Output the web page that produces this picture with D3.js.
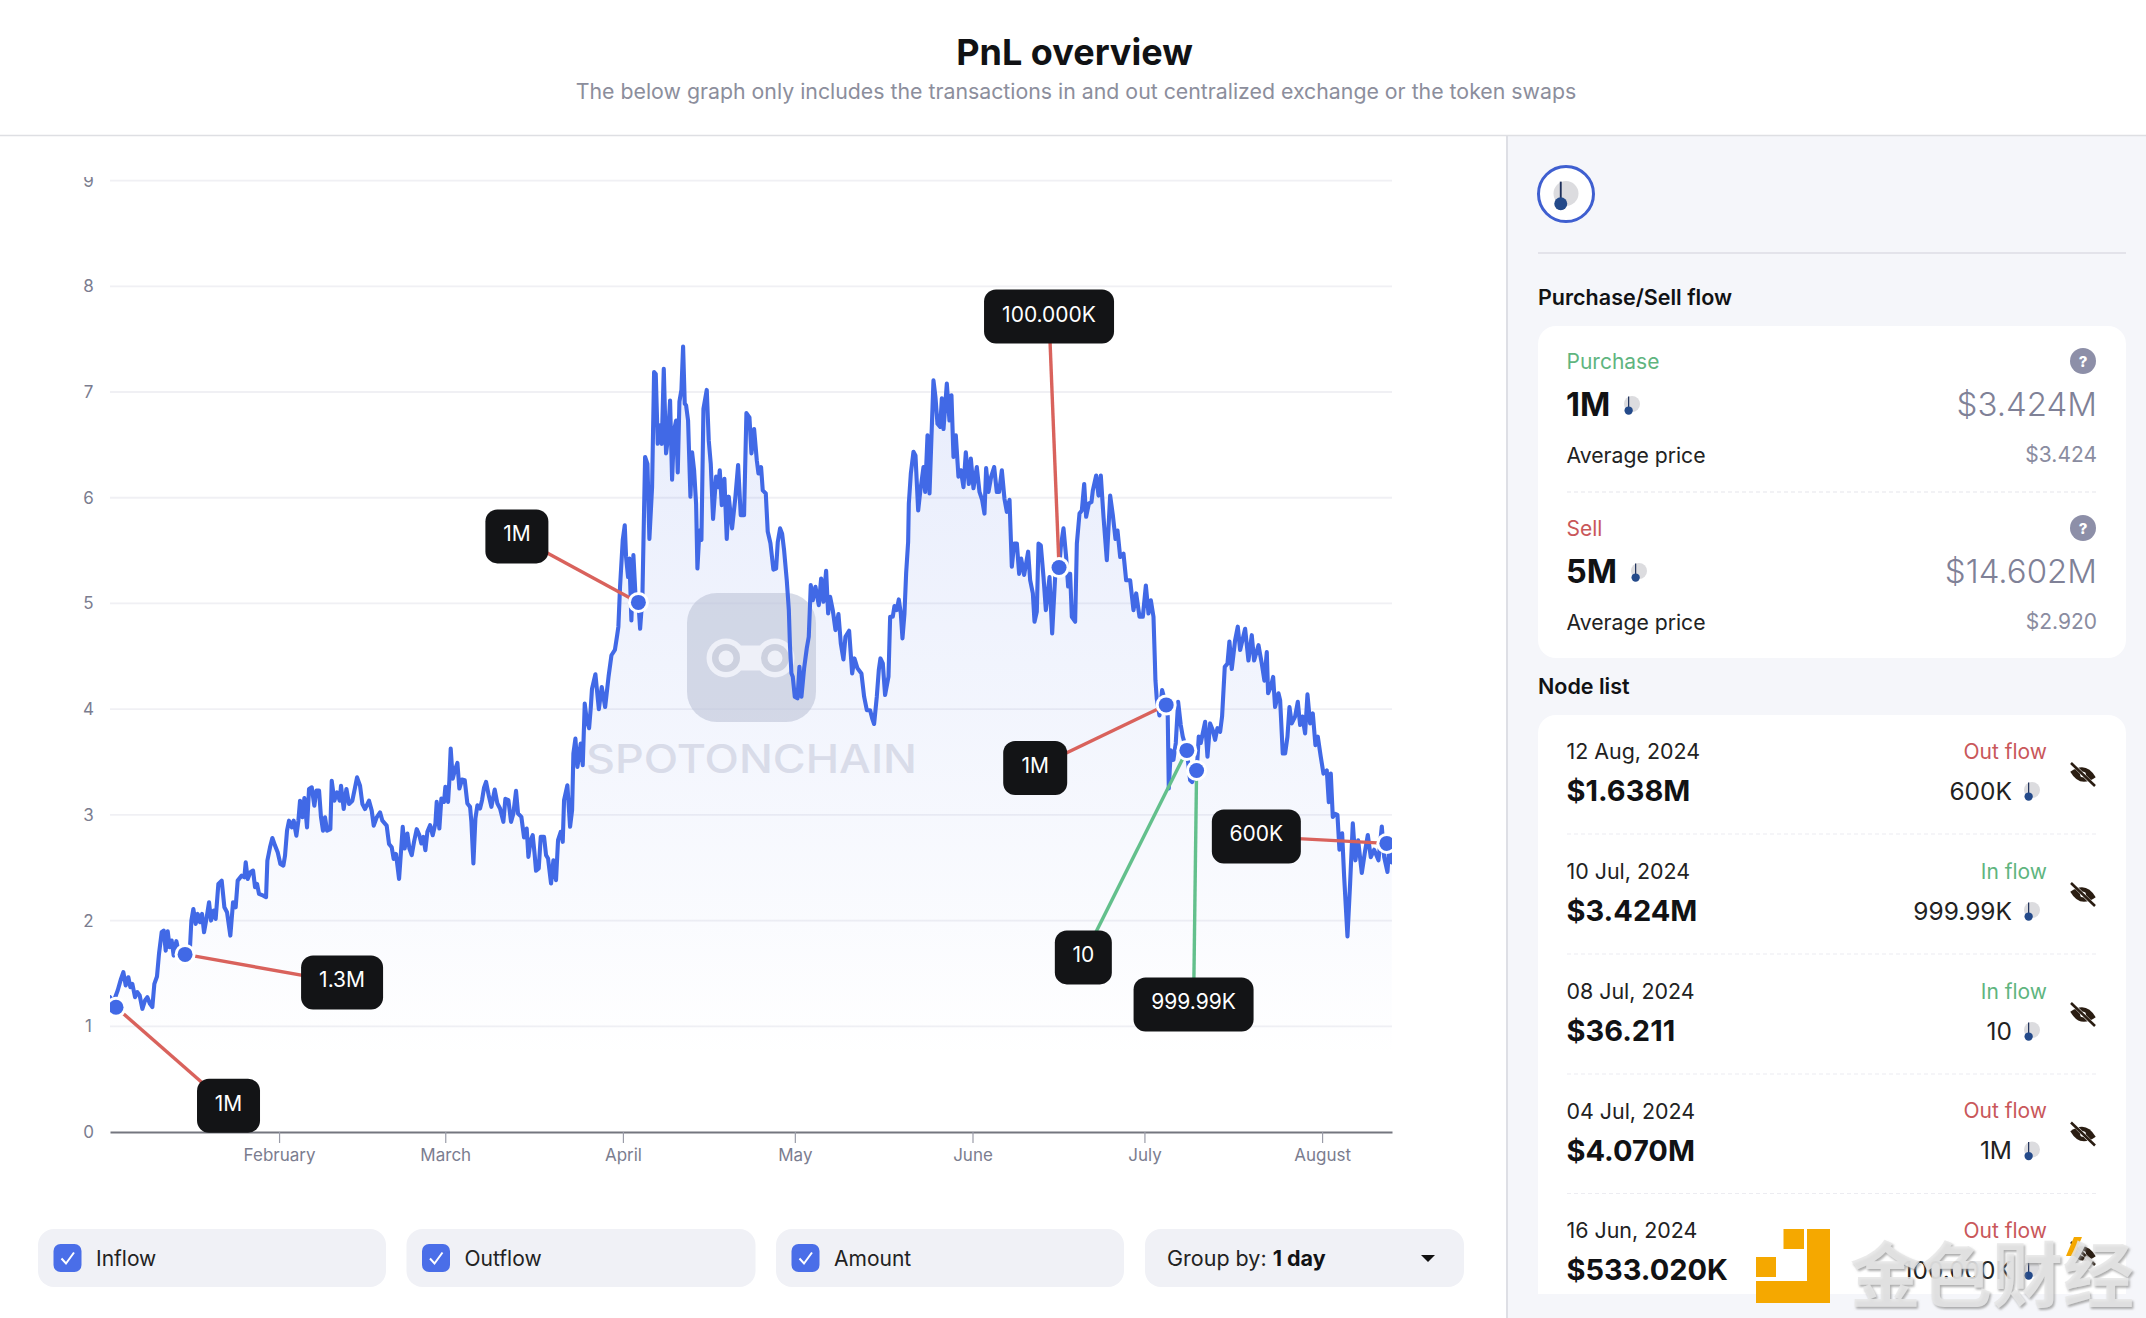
<!DOCTYPE html>
<html><head><meta charset="utf-8"><title>PnL overview</title>
<script src="https://cdn.jsdelivr.net/npm/d3@7/dist/d3.min.js"></script>
<style>html,body{margin:0;padding:0;background:#fff}svg{display:block}text{font-family:Inter,"Noto Sans",sans-serif}</style>
</head><body><svg id="page" width="2146" height="1318" xmlns="http://www.w3.org/2000/svg"></svg>
<script>
// ---------- chart data (days since 2 Jan 2024 12:00 UTC, token price in $) ----------
const priceDays = [0,.58,1.34,1.92,2.33,2.74,3.2,3.55,3.9,4.37,4.77,5.18,5.65,6.11,6.52,6.98,7.39,7.74,8.2,8.55,9.02,9.37,9.72,10.07,10.41,10.76,11.11,11.58,11.93,13.09,13.96,14.2,14.55,14.95,15.3,15.71,16.06,16.41,16.87,17.28,17.63,18.09,18.44,18.91,19.49,19.96,20.42,21,21.47,21.93,22.28,22.98,23.45,23.68,24.03,24.49,24.96,25.31,25.66,26,26.76,27.23,27.46,27.92,28.33,28.8,29.26,29.73,30.25,30.54,30.89,31.24,31.71,32.05,32.52,32.87,33.16,33.57,33.92,34.38,34.73,35.2,35.66,36.01,36.48,36.82,37.17,37.52,37.87,38.45,38.69,39.15,39.62,40.08,40.31,40.78,41.25,41.71,42.29,42.76,43.11,43.63,44.04,44.5,45.2,45.67,46.02,46.54,47.12,47.53,48.28,48.69,49.16,49.5,49.91,50.44,
51.08,51.42,51.89,52.24,52.65,53.05,53.52,53.98,54.33,54.68,55.03,55.38,55.85,56.31,56.78,57.01,57.47,57.82,58.29,58.52,58.99,59.22,59.45,59.8,60.27,60.62,60.96,61.43,61.9,62.36,62.83,63.06,63.41,63.76,64.11,64.57,64.92,65.27,65.62,66.08,66.55,67.13,67.6,68.06,68.64,68.99,69.52,69.98,70.39,70.85,71.2,71.78,72.25,72.71,73.01,73.41,73.76,74.11,74.34,74.81,75.16,75.74,76.09,76.44,76.96,77.37,77.83,78.18,78.65,79,79.23,79.81,80.28,80.63,80.86,81.21,81.56,82.14,82.49,82.84,83.19,83.6,83.9,84.1,84.7,85.3,85.8,86.4,87,87.5,88.1,88.5,
88.71,89,89.47,89.82,90.05,90.4,90.63,90.98,91.33,91.68,92.2,92.5,92.9,93.37,93.78,94.12,94.59,94.94,95.23,95.58,95.99,96.28,96.63,97.03,97.38,97.73,98.08,98.43,98.78,99.07,99.36,99.71,100,100.29,100.52,100.87,101.28,101.57,101.92,102.27,102.5,102.85,103.2,103.55,104.13,104.48,104.83,105.23,105.76,106.11,106.4,106.75,107.21,107.62,107.97,108.55,109.13,109.6,110.06,110.64,111.05,111.58,111.93,112.39,112.86,113.15,113.61,113.9,114.43,114.77,115.24,115.76,116.23,116.52,116.93,117.28,117.63,118.09,118.45,118.65,118.9,
119.14,119.49,119.96,120.3,120.65,121.12,121.58,121.93,122.28,122.63,123.1,123.68,124.09,124.49,124.96,125.31,125.66,126.12,126.59,127.11,127.52,127.98,128.33,128.97,129.5,129.9,130.43,131.12,131.59,132.06,132.64,132.99,133.33,133.8,134.15,134.44,134.85,135.25,135.84,136.13,136.59,136.88,137.29,137.64,137.99,138.28,138.63,138.92,139.27,
139.39,139.74,140.2,140.55,141.02,141.37,141.95,142.24,142.65,143,143.34,143.69,144.04,144.39,144.86,145.15,145.44,146.02,146.48,146.83,147.18,147.59,148.05,148.46,148.93,149.33,149.86,150.21,150.67,151.25,151.72,152.18,152.59,152.88,153.29,153.76,154.28,154.74,155.15,155.62,156.08,156.49,156.96,157.36,157.77,158.24,158.64,158.99,159.51,160.21,160.56,161.03,161.32,161.72,162.02,162.42,162.89,163.3,163.94,164.4,164.92,165.62,165.91,166.38,166.84,167.19,167.54,167.83,168.41,168.71,169.17,169.58,169.99,170.33,170.8,171.26,171.5,172.08,172.49,172.89,173.36,173.94,174.52,174.99,175.45,175.8,176.27,176.85,177.31,178.01,178.59,179.06,179.64,180.22,180.75,181.21,181.62,182.08,182.32,
182.42,182.65,183.12,183.58,184.28,184.57,184.75,185.1,185.56,185.97,186.38,186.84,187.19,187.89,188.47,188.82,189.63,189.98,190.33,191.09,191.5,191.96,192.43,192.83,193.24,193.71,194.05,194.52,194.99,195.33,195.74,196.32,196.79,197.2,198.07,198.65,199.23,199.64,200.4,200.98,201.44,201.85,202.08,202.55,202.96,203.3,203.89,204.18,204.64,205.05,205.46,205.81,206.21,206.79,207.26,207.67,208.07,208.54,208.95,209.41,209.88,210.34,210.75,211.27,211.74,212.32,212.67,213.02,213.37,213.78,214.18,214.53,215,215.35,215.93,216.39,216.86,217.32,217.79,218.43,218.95,219.48,220,220.58,221.34,221.92,222.33,222.91,223.26,223.66];
const priceValues = [1.275,1.228,1.338,1.449,1.512,1.386,1.464,1.37,1.401,1.275,1.323,1.291,1.165,1.244,1.275,1.212,1.181,1.401,1.471,1.685,1.89,1.905,1.716,1.899,1.748,1.811,1.669,1.805,1.716,1.675,1.748,2,2.11,1.968,2.063,1.984,2.063,1.89,2.03,2.173,2,2.095,2.016,2.347,2.378,2.126,2.079,1.858,2.173,2.126,2.378,2.425,2.41,2.551,2.394,2.457,2.473,2.315,2.347,2.252,2.236,2.221,2.567,2.693,2.781,2.709,2.646,2.536,2.52,2.614,2.851,2.945,2.882,2.945,2.803,2.945,3.134,2.977,3.159,2.882,3.245,3.26,3.087,3.229,3.229,2.977,2.851,2.977,2.851,2.866,3.323,3.134,3.213,3.134,3.276,3.055,3.245,3.103,3.134,3.26,3.355,3.276,3.103,3.055,3.134,3.04,2.898,2.977,3.024,2.945,2.898,2.725,2.693,2.583,2.63,2.394,
2.887,2.682,2.824,2.682,2.619,2.745,2.865,2.808,2.729,2.792,2.666,2.839,2.902,2.808,2.918,3.123,2.871,3.154,3.123,3.265,3.123,3.328,3.627,3.343,3.438,3.492,3.249,3.334,3.328,3.107,3.076,2.934,2.54,2.965,3.091,3.06,3.139,3.258,3.312,3.186,3.076,3.239,3.107,3.06,2.934,3.151,3.139,2.934,3.013,3.227,3.013,2.981,2.786,2.871,2.603,2.761,2.808,2.619,2.471,2.493,2.792,2.792,2.619,2.587,2.351,2.571,2.382,2.761,2.839,2.745,3.139,3.28,2.887,3.044,3.58,3.721,3.454,3.674,3.47,4.052,3.895,3.82,4.02,4.19,4.33,4,4.21,4.02,4.31,4.51,4.56,4.7,
4.78,5.158,5.6,5.74,5.44,5.25,5.425,4.84,5.457,5.09,5.016,4.76,5.06,6.386,6.32,5.61,6.1,7.19,7.17,6.51,6.685,6.51,7.22,6.42,6.575,6.92,6.17,6.64,6.73,6.24,6.91,7.02,7.43,6.89,6.875,6.73,6.01,6.43,6.26,5.945,5.33,5.69,5.6,6.84,7.02,6.54,6.32,5.8,6.2,6.1,6.26,5.93,6.18,5.61,6.01,5.71,6.01,6.31,5.835,5.835,6.8,6.76,6.42,6.65,6.355,6.23,6.29,6.07,6.04,5.68,5.57,5.32,5.33,5.58,5.71,5.66,5.5,5.22,4.94,4.6,4.34,
4.307,4.118,4.102,4.4,4.118,4.386,4.575,4.685,5.173,5.03,5.158,4.984,5.236,5.016,5.309,4.905,5.063,4.937,4.748,4.899,4.622,4.47,4.685,4.742,4.338,4.48,4.386,4.338,4.118,3.99,3.99,3.913,3.86,4.118,4.37,4.48,4.433,4.134,4.307,4.874,4.874,4.975,4.937,5.038,4.905,4.669,4.905,5.284,5.583,
5.945,6.229,6.434,6.4,5.88,6.055,6.29,6.055,6.59,6.04,6.575,7.11,6.95,6.7,6.67,6.94,6.65,7.08,6.73,6.97,6.386,6.59,6.2,6.26,6.1,6.43,6.13,6.37,6.09,6.29,6.055,5.98,5.85,6.28,6.055,6.2,6.29,6.055,6.055,6.26,5.99,5.866,5.98,5.347,5.567,5.567,5.28,5.425,5.27,5.49,5.22,5.095,4.827,4.92,5.567,5.55,5.25,4.937,5.25,4.716,5.25,5.347,5.535,5.71,5.44,5.16,5.28,4.874,4.827,5.567,5.85,5.88,6.13,5.82,5.945,5.96,6.07,6.21,6.02,6.21,5.82,5.41,6.02,5.835,5.61,5.69,5.44,5.47,5.22,5.22,4.937,5.095,4.874,4.874,5.17,4.905,5.03,4.874,4.46,
4.274,4.1,3.94,4.18,4.04,3.93,3.25,3.61,3.52,3.68,4.07,3.85,3.74,3.61,3.33,3.31,3.42,3.74,3.68,3.88,3.55,3.865,3.8,3.71,3.82,3.786,3.93,4.4,4.43,4.64,4.38,4.65,4.78,4.56,4.76,4.46,4.7,4.46,4.605,4.43,4.27,4.54,4.15,4.21,4.305,4.02,4.15,4.085,3.58,3.58,3.74,4.02,3.865,3.93,4.07,3.85,3.93,3.77,4.14,3.865,3.96,3.66,3.74,3.55,3.39,3.42,3.12,3.39,2.98,3.01,3,2.67,2.825,2.415,1.85,2.35,2.92,2.57,2.76,2.45,2.64,2.81,2.6,2.67,2.57,2.89,2.6,2.46,2.73,2.55];
const yTicks = [0,1,2,3,4,5,6,7,8,9];
const monthNames = ["February","March","April","May","June","July","August"];
const monthStarts = ["2024-02-01","2024-03-01","2024-04-01","2024-05-01","2024-06-01","2024-07-01","2024-08-01"];
const nodeDays = [1.05,13.1,92.2,165.6,184.3,187.9,189.6,222.8];
const nodePrices = [1.18,1.68,5.01,5.34,4.04,3.61,3.42,2.73];
const nodeAmounts = ["1M","1.3M","1M","100.000K","1M","10","999.99K","600K"];
const nodeFlowTypes = ["out","out","out","out","out","in","in","out"];
// ---------- side panel data ----------
const listDates = ["12 Aug, 2024","10 Jul, 2024","08 Jul, 2024","04 Jul, 2024","16 Jun, 2024"];
const listValues = ["$1.638M","$3.424M","$36.211","$4.070M","$533.020K"];
const listFlows = ["Out flow","In flow","In flow","Out flow","Out flow"];
const listAmounts = ["600K","999.99K","10","1M","100.000K"];
const legendLabels = ["Inflow","Outflow","Amount"];

// ---------- layout ----------
const plot = {l:110,r:1392,t:180.6,b:1132};
const boxOffsets = [[112.5,98.5,63,54],[157,28,82,54],[-121.5,-66,63,54],[-10,-251,130,54],[-131,63,64,54],[-103.5,207,57,54],[-3,234,120,54],[-130.5,-7,89,54]];
const BLUE="#4169e6", RED="#d9625c", GREEN="#63c08c", INK="#111214", GREY="#7c7e93";

const svg = d3.select("#page");
const defs = svg.append("defs");
const t0 = Date.UTC(2024,0,2,12);
const dayDate = d => new Date(t0 + d*864e5);
const x = d3.scaleUtc().domain([dayDate(0),dayDate(223.7)]).range([plot.l,plot.r]);
const y = d3.scaleLinear().domain([0,9]).range([plot.b,plot.t]);

function txt(g,x0,y0,s,o={}){
  const t=g.append("text").attr("x",x0).attr("y",y0).attr("dominant-baseline","central").text(s)
   .attr("font-size",o.size||21).attr("font-weight",o.weight||400).attr("fill",o.fill||"#222")
   .attr("text-anchor",o.anchor||"start");
  if(o.ls)t.attr("letter-spacing",o.ls);
  if(o.family)t.style("font-family",o.family);
  return t;
}
function tokenIcon(g,cx,cy,r){
  g.append("circle").attr("cx",cx).attr("cy",cy).attr("r",r).attr("fill","#dcdcdf");
  const dx=cx-.42*r, dy=cy+.82*r;
  g.append("line").attr("x1",dx).attr("x2",dx).attr("y1",cy-.95*r).attr("y2",dy).attr("stroke","#1d2f5a").attr("stroke-width",Math.max(1.2,r*.15));
  g.append("circle").attr("cx",dx).attr("cy",dy).attr("r",r*.52).attr("fill","#244a8a");
}
// ---------- page frame ----------
svg.append("rect").attr("width",2146).attr("height",1318).attr("fill","#fff");
svg.append("rect").attr("x",1507).attr("y",136).attr("width",639).attr("height",1182).attr("fill","#f5f6fa");
svg.append("line").attr("x1",1507).attr("x2",1507).attr("y1",136).attr("y2",1318).attr("stroke","#dedfe5").attr("stroke-width",2);
svg.append("line").attr("x1",0).attr("x2",2146).attr("y1",135.5).attr("y2",135.5).attr("stroke","#dedfe3").attr("stroke-width",1.6);
txt(svg,1074.5,52,"PnL overview",{size:36,weight:700,anchor:"middle",fill:INK});
txt(svg,1076,91,"The below graph only includes the transactions in and out centralized exchange or the token swaps",{size:21.3,anchor:"middle",fill:"#8c8e9c"});

// ---------- chart ----------
const grad=defs.append("linearGradient").attr("id","areaFill").attr("gradientUnits","userSpaceOnUse").attr("x1",0).attr("x2",0).attr("y1",y(7.4)).attr("y2",1060);
grad.append("stop").attr("offset",0).attr("stop-color",BLUE).attr("stop-opacity",.125);
grad.append("stop").attr("offset",.6).attr("stop-color",BLUE).attr("stop-opacity",.055);
grad.append("stop").attr("offset",1).attr("stop-color",BLUE).attr("stop-opacity",0);
defs.append("clipPath").attr("id","plotClip").append("rect").attr("x",plot.l).attr("y",177).attr("width",plot.r-plot.l).attr("height",plot.b-177);
defs.append("clipPath").attr("id","yClip").append("rect").attr("x",0).attr("y",177).attr("width",plot.r+10).attr("height",1000);

const priceData = priceDays.map((d,i)=>({d:dayDate(d),v:priceValues[i]}));
const yG=svg.append("g").attr("clip-path","url(#yClip)");
yG.append("g").selectAll("line").data(yTicks.filter(t=>t>0)).join("line")
  .attr("x1",plot.l).attr("x2",plot.r).attr("y1",d=>y(d)).attr("y2",d=>y(d)).attr("stroke","#f0f0f4").attr("stroke-width",1.8);
yG.append("g").selectAll("text").data(yTicks).join("text").attr("x",88.5).attr("y",d=>y(d)).attr("dominant-baseline","central")
  .attr("text-anchor","middle").attr("font-size",17).attr("fill","#7b7d8f").text(d=>d);

const plotG=svg.append("g").attr("clip-path","url(#plotClip)");
plotG.append("path").datum(priceData).attr("fill","url(#areaFill)")
  .attr("d",d3.area().x(d=>x(d.d)).y0(y(0)).y1(d=>y(d.v)));

// watermark
const wm=plotG.append("g");
wm.append("rect").attr("x",687).attr("y",593).attr("width",129).attr("height",129).attr("rx",30).attr("fill","#bfc5d8").attr("opacity",.62);
wm.append("line").attr("x1",726).attr("x2",775).attr("y1",658).attr("y2",658).attr("stroke","#eef0f8").attr("stroke-width",25);
[726,775].forEach(cx=>{
  wm.append("circle").attr("cx",cx).attr("cy",658).attr("r",19.5).attr("fill","#eef0f8");
  wm.append("circle").attr("cx",cx).attr("cy",658).attr("r",14).attr("fill","#cdd1df");
  wm.append("circle").attr("cx",cx).attr("cy",658).attr("r",7.5).attr("fill","#eef0f8");
});
txt(wm,586,758,"SPOTONCHAIN",{size:39,weight:500,fill:"#d9dce9"}).attr("textLength",331).attr("lengthAdjust","spacingAndGlyphs");

plotG.append("path").datum(priceData).attr("fill","none").attr("stroke",BLUE).attr("stroke-width",4.1).attr("stroke-linejoin","round").attr("stroke-linecap","round")
  .attr("d",d3.line().x(d=>x(d.d)).y(d=>y(d.v)));

// axis
const xAxis=d3.axisBottom(x).tickValues(monthStarts.map(s=>new Date(s+"T00:00:00Z"))).tickFormat((d,i)=>monthNames[i]).tickSize(11).tickSizeOuter(0).tickPadding(6);
const axG=svg.append("g").attr("transform",`translate(0,${plot.b})`).call(xAxis);
axG.select(".domain").attr("stroke","#74767f").attr("stroke-width",2);
axG.selectAll(".tick line").attr("stroke","#9a9ca8").attr("stroke-width",1.2);
axG.selectAll(".tick text").attr("font-size",17).attr("fill","#7b7d8f").style("font-family","Inter,sans-serif");

// nodes
const nodes=nodeDays.map((d,i)=>({px:x(dayDate(d)),py:y(nodePrices[i]),label:nodeAmounts[i],flow:nodeFlowTypes[i],box:boxOffsets[i]}));
svg.append("g").selectAll("line").data(nodes).join("line")
  .attr("x1",d=>d.px).attr("y1",d=>d.py).attr("x2",d=>d.px+d.box[0]).attr("y2",d=>d.py+d.box[1])
  .attr("stroke",d=>d.flow==="in"?GREEN:RED).attr("stroke-width",3.4);
const dotG=svg.append("g").attr("clip-path","url(#plotClip)");
dotG.selectAll("circle.ring").data(nodes).join("circle").attr("class","ring").attr("cx",d=>d.px).attr("cy",d=>d.py).attr("r",10.5).attr("fill","#fff");
dotG.selectAll("circle.dot").data(nodes).join("circle").attr("class","dot").attr("cx",d=>d.px).attr("cy",d=>d.py).attr("r",7.5).attr("fill",BLUE);
const boxG=svg.append("g").selectAll("g").data(nodes).join("g").attr("transform",d=>`translate(${d.px+d.box[0]},${d.py+d.box[1]})`);
boxG.append("rect").attr("x",d=>-d.box[2]/2).attr("y",d=>-d.box[3]/2).attr("width",d=>d.box[2]).attr("height",d=>d.box[3]).attr("rx",12).attr("fill","#131416");
boxG.append("text").attr("text-anchor","middle").attr("dominant-baseline","central").attr("y",-2.5).attr("font-size",21).attr("fill","#fff").text(d=>d.label);

// legend row
const pills=[[38,348],[406.5,349],[776,348]];
legendLabels.forEach((s,i)=>{
  const g=svg.append("g");
  g.append("rect").attr("x",pills[i][0]).attr("y",1229).attr("width",pills[i][1]).attr("height",58).attr("rx",16).attr("fill","#f0f1f6");
  const bx=pills[i][0]+15.5;
  g.append("rect").attr("x",bx).attr("y",1244).attr("width",28).attr("height",28).attr("rx",7).attr("fill","#4a6ee8");
  g.append("path").attr("d",`M${bx+8},${1258.5}l4.5,5l8,-11`).attr("fill","none").attr("stroke","#fff").attr("stroke-width",2);
  txt(g,bx+42.5,1258,s,{size:21,fill:"#222"});
});
svg.append("rect").attr("x",1145).attr("y",1229).attr("width",319).attr("height",58).attr("rx",16).attr("fill","#f0f1f6");
const gb=txt(svg,1167,1258,"Group by: ",{size:21.5,fill:"#222"}).attr("xml:space","preserve").style("white-space","pre");
gb.append("tspan").attr("font-weight",700).attr("fill",INK).text("1 day");
svg.append("path").attr("d","M1421,1255h14l-7,7z").attr("fill","#111");

// ---------- side panel ----------
const side=svg.append("g");
side.append("circle").attr("cx",1566).attr("cy",194).attr("r",27.5).attr("fill","#fff").attr("stroke","#3f5fd0").attr("stroke-width",3);
tokenIcon(side,1566,193.5,12.5);
side.append("line").attr("x1",1538).attr("x2",2126).attr("y1",253).attr("y2",253).attr("stroke","#dcdde5").attr("stroke-width",1.6);
txt(side,1538,297,"Purchase/Sell flow",{size:21.5,weight:600,fill:INK});
side.append("rect").attr("x",1538).attr("y",326).attr("width",588).attr("height",332).attr("rx",18).attr("fill","#fff");
function help(cy){
  side.append("circle").attr("cx",2083).attr("cy",cy).attr("r",13).attr("fill","#8d8fa8");
  txt(side,2083,cy,"?",{size:15,weight:800,fill:"#fff",anchor:"middle"});
}
const flowRows=[
 {y:361,label:"Purchase",col:"#5fb57f",amt:"1M",ic:1632,val:"$3.424M",avg:"$3.424"},
 {y:528,label:"Sell",col:"#c9575a",amt:"5M",ic:1639,val:"$14.602M",avg:"$2.920"}];
flowRows.forEach(r=>{
  txt(side,1566.5,r.y,r.label,{size:21,fill:r.col}); help(r.y);
  txt(side,1566,r.y+43,r.amt,{size:32.5,weight:700,fill:INK});
  tokenIcon(side,r.ic,r.y+43,8);
  txt(side,2097,r.y+43,r.val,{size:33,weight:300,fill:"#7f8197",anchor:"end"});
  txt(side,1566.5,r.y+93.5,"Average price",{size:21.2,fill:"#222"});
  txt(side,2097,r.y+93.5,r.avg,{size:21,fill:"#8a8ca0",anchor:"end"});
});
side.append("line").attr("x1",1567).attr("x2",2096).attr("y1",492).attr("y2",492).attr("stroke","#e6e6ec").attr("stroke-width",1.2).attr("stroke-dasharray","4 3");
txt(side,1538,686,"Node list",{size:21.5,weight:600,fill:INK});
defs.append("clipPath").attr("id","listClip").append("rect").attr("x",1538).attr("y",715).attr("width",588).attr("height",579);
const list=side.append("g").attr("clip-path","url(#listClip)");
list.append("rect").attr("x",1538).attr("y",715).attr("width",588).attr("height",620).attr("rx",18).attr("fill","#fff");
const rowYs=[751,871,991,1110.5,1230];
listDates.forEach((s,i)=>{
  const ry=rowYs[i], isIn=listFlows[i]==="In flow";
  txt(list,1566.5,ry,s,{size:21.4,fill:"#222"});
  txt(list,1566.5,ry+39.5,listValues[i],{size:29,weight:700,fill:INK});
  txt(list,2047,ry,listFlows[i],{size:21,fill:isIn?"#5fb57f":"#c9575a",anchor:"end"});
  txt(list,2012,ry+39.5,listAmounts[i],{size:24.5,fill:"#222",anchor:"end"});
  tokenIcon(list,2032,ry+39,8);
  if(i<4) list.append("line").attr("x1",1567).attr("x2",2096).attr("y1",ry+83).attr("y2",ry+83).attr("stroke","#ececf1").attr("stroke-width",1.2).attr("stroke-dasharray","4 3");
  const eye=list.append("g").attr("transform",`translate(2083,${ry+23.5}) rotate(12)`);
  eye.append("path").attr("d","M-13,0Q0,-14.5 13,0Q0,14.5 -13,0Z").attr("fill","#2a1d12");
  eye.append("circle").attr("r",2.8).attr("fill","#fff");
  eye.append("line").attr("x1",-11).attr("y1",-11).attr("x2",11).attr("y2",11).attr("stroke","#fff").attr("stroke-width",3.4).attr("transform","rotate(-12)");
  eye.append("line").attr("x1",-12).attr("y1",-11.5).attr("x2",12).attr("y2",11.5).attr("stroke","#2a1d12").attr("stroke-width",2.6).attr("transform","rotate(-12)");
});

// ---------- bottom-right publisher mark ----------
const orange="#f5a800";
const mark=svg.append("g");
[[1783.5,1229,20.5,20],[1756,1257,20,20],[1807,1229,23,74],[1756,1281,74,22]].forEach(r=>
  mark.append("rect").attr("x",r[0]).attr("y",r[1]).attr("width",r[2]).attr("height",r[3]).attr("fill",orange));
defs.append("filter").attr("id","wmShadow").attr("x","-5%").attr("y","-5%").attr("width","110%").attr("height","115%")
  .append("feDropShadow").attr("dx",1.5).attr("dy",2).attr("stdDeviation",1.2).attr("flood-color","#8d8d8d").attr("flood-opacity",.85);
mark.append("path").attr("d","M2066,1256l8,-19h8l-8,19z").attr("fill",orange);
txt(mark,1850,1270,"金色财经",{size:71,weight:700,fill:"#e6e6e6",family:"'Noto Sans CJK SC'"}).attr("filter","url(#wmShadow)").attr("fill-opacity",.85);
</script></body></html>
